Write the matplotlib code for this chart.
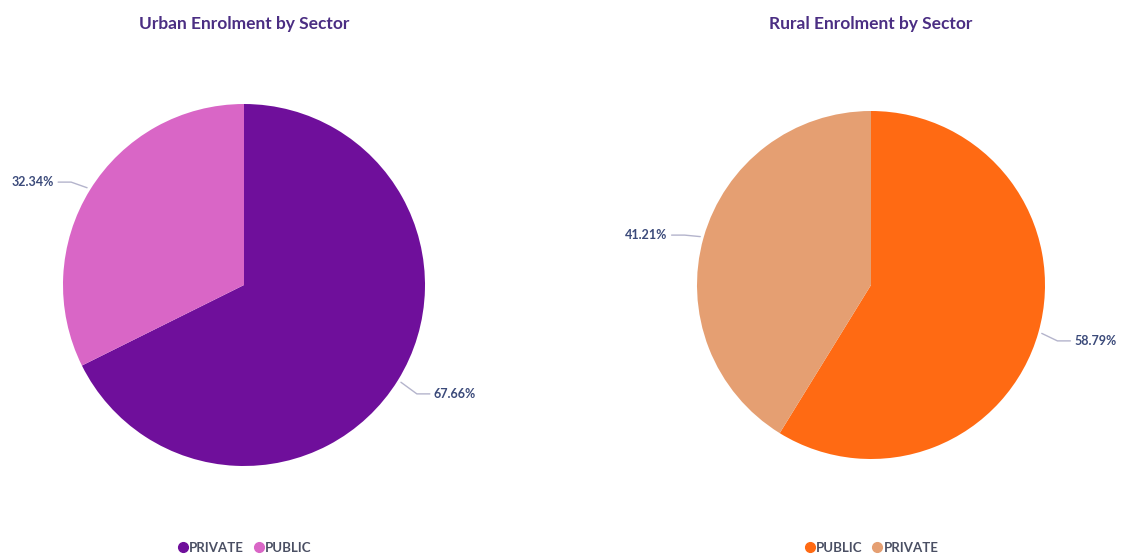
import numpy as np
import matplotlib.pyplot as plt
from matplotlib.lines import Line2D

urban_labels = ['PRIVATE', 'PUBLIC']
urban_values = [67.66, 32.34]
rural_labels = ['PUBLIC', 'PRIVATE']
rural_values = [58.79, 41.21]

urban_colors = ['#6F0F9B', '#D966C6']
rural_colors = ['#FF6A13', '#E59F72']

W, H = 1121, 555
plt.rcParams['font.family'] = ['Lato', 'DejaVu Sans']

fig = plt.figure(figsize=(W / 100, H / 100), dpi=100)
fig.patch.set_facecolor('white')


def draw_pie(cx, cy, r, labels, values, colors, title):
    # axes placed in pixel coordinates so the pie lands where the reference has it
    ax = fig.add_axes([(cx - r) / W, 1 - (cy + r) / H, 2 * r / W, 2 * r / H])
    wedges, _ = ax.pie(values, colors=colors, startangle=90, counterclock=False,
                       radius=1, wedgeprops=dict(linewidth=0))
    ax.set_xlim(-1, 1)
    ax.set_ylim(-1, 1)
    ax.set_aspect('equal')
    ax.axis('off')

    px = 1.0 / r  # one pixel in data units
    for w, v in zip(wedges, values):
        mid = np.deg2rad((w.theta1 + w.theta2) / 2)
        x, y = np.cos(mid), np.sin(mid)
        side = 1 if x >= 0 else -1
        ex, ey = x * 1.02, y * 1.02
        tx, ty = x + side * 36 * px, y + (20 * y - 3) * px
        # leader: short horizontal run near the label, then a slant to the pie
        ax.plot([tx - side * 4 * px, tx - side * 17 * px, ex],
                [ty, ty, ey], color='#B4B4CC', lw=1, clip_on=False,
                solid_capstyle='round')
        ax.text(tx, ty, f'{v:.2f}%', ha='left' if side > 0 else 'right',
                va='center', fontsize=9, fontweight='bold', color='#3B4A7A')

    fig.text(cx / W, 1 - 24 / H, title, ha='center', va='center',
             fontsize=12.5, fontweight='bold', color='#4B2E83')

    handles = [Line2D([0], [0], marker='o', linestyle='', markersize=7,
                      markerfacecolor=c, markeredgecolor=c) for c in colors]
    fig.legend(handles, labels, loc='center', bbox_to_anchor=(cx / W, 1 - 548 / H),
               ncol=len(labels), frameon=False, handletextpad=0.0,
               columnspacing=0.6, handlelength=1.0,
               prop=dict(size=9.5, weight='bold'), labelcolor='#4A4F63')


draw_pie(244, 285, 181, urban_labels, urban_values, urban_colors,
         'Urban Enrolment by Sector')
draw_pie(871, 285, 174, rural_labels, rural_values, rural_colors,
         'Rural Enrolment by Sector')

fig.savefig('out.png', dpi=100, facecolor='white')
